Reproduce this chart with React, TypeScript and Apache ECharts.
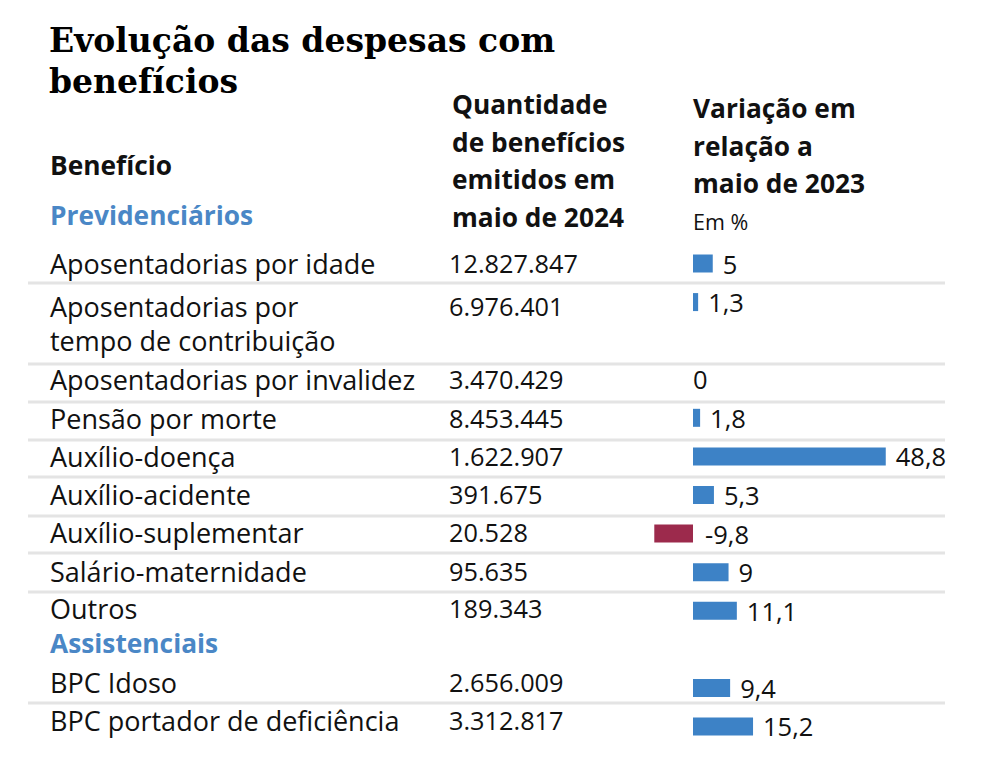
import React, { useEffect, useRef } from "react";
import * as echarts from "echarts";

const titleLines = ["Evolução das despesas com", "benefícios"];
const colHeadBenefit = "Benefício";
const colHeadQty = ["Quantidade", "de benefícios", "emitidos em", "maio de 2024"];
const colHeadVar = ["Variação em", "relação a", "maio de 2023"];
const unitNote = "Em %";
const groupPrev = "Previdenciários";
const groupAssist = "Assistenciais";

const benefits = [
  "Aposentadorias por idade",
  "Aposentadorias por\ntempo de contribuição",
  "Aposentadorias por invalidez",
  "Pensão por morte",
  "Auxílio-doença",
  "Auxílio-acidente",
  "Auxílio-suplementar",
  "Salário-maternidade",
  "Outros",
  "BPC Idoso",
  "BPC portador de deficiência",
];
const quantities = [
  "12.827.847",
  "6.976.401",
  "3.470.429",
  "8.453.445",
  "1.622.907",
  "391.675",
  "20.528",
  "95.635",
  "189.343",
  "2.656.009",
  "3.312.817",
];
const variation = [5, 1.3, 0, 1.8, 48.8, 5.3, -9.8, 9, 11.1, 9.4, 15.2];

// row slots on the category axis (gaps: second line of row 2, "Assistenciais" header)
const slotOfRow = [0, 1, 3, 4, 5, 6, 7, 8, 9, 11, 12];
const slotCount = 13;
const rowTextY = [263, 306, 379, 418, 456, 494, 532, 571, 608, 682, 720];
const dividerY = [283, 364, 402, 440, 477, 516, 553, 592, 703];

const FONT = "'Open Sans', 'Noto Sans', sans-serif";
const BLUE = "#3d82c6";
const RED = "#9c2a4c";
const HEAD_BLUE = "#4a87c6";

export default function App() {
  const ref = useRef<HTMLDivElement>(null);
  useEffect(() => {
    const chart = echarts.init(ref.current!, null, { renderer: "svg" });

    const slots: string[] = [];
    for (let i = 0; i < slotCount; i++) slots.push("s" + i);
    const data: any[] = slots.map(() => null);
    variation.forEach((v, i) => {
      data[slotOfRow[i]] = {
        value: v,
        itemStyle: { color: v < 0 ? RED : BLUE },
        label: v === 0 ? { distance: 0 } : v < 0 ? { position: "right", distance: 12 } : {},
      };
    });

    const graphics: any[] = [];
    const txt = (x: number, y: number, text: string, font: any, fill = "#111") =>
      graphics.push({
        type: "text",
        x,
        y,
        style: { text, fill, ...font, verticalAlign: "middle" },
      });

    const titleFont = { fontFamily: "'DejaVu Serif', 'Liberation Serif', serif", fontWeight: "bold", fontSize: 33 };
    txt(49, 40, titleLines[0], titleFont, "#000");
    txt(49, 81, titleLines[1], titleFont, "#000");

    const bold = { fontFamily: FONT, fontWeight: "bold", fontSize: 26.3 };
    const reg = { fontFamily: FONT, fontSize: 27 };
    const num = { fontFamily: FONT, fontSize: 25.3 };
    txt(50, 165, colHeadBenefit, bold);
    txt(50, 215, groupPrev, bold, HEAD_BLUE);
    txt(50, 643, groupAssist, bold, HEAD_BLUE);
    colHeadQty.forEach((t, i) => txt(452, 104 + i * 37.5, t, bold));
    colHeadVar.forEach((t, i) => txt(693, 108 + i * 37.5, t, bold));
    txt(693, 221, unitNote, { fontFamily: FONT, fontSize: 21.5 });

    dividerY.forEach((y) =>
      graphics.push({
        type: "line",
        shape: { x1: 28, y1: y, x2: 945, y2: y },
        style: { stroke: "#e4e4e4", lineWidth: 3 },
        z: -1,
      })
    );

    benefits.forEach((b, i) => {
      const lines = b.split("\n");
      lines.forEach((l, j) => txt(50, rowTextY[i] + j * 34, l, reg));
      txt(449, rowTextY[i], quantities[i], num);
    });

    const cell = 38.58;
    chart.setOption({
      animation: false,
      graphic: graphics,
      grid: {
        left: 614,
        width: 316,
        top: 263.5 - cell / 2,
        height: cell * slotCount,
      },
      xAxis: {
        type: "value",
        min: -20,
        max: 60,
        show: false,
      },
      yAxis: {
        type: "category",
        data: slots,
        inverse: true,
        show: false,
      },
      series: [
        {
          type: "bar",
          data,
          barWidth: 18,
          label: {
            show: true,
            position: "right",
            distance: 10,
            color: "#111",
            fontFamily: FONT,
            fontSize: 25.5,
            formatter: (p: any) => String(p.value).replace(".", ","),
          },
        },
      ],
    });
    return () => chart.dispose();
  }, []);
  return (
    <div
      ref={ref}
      style={{ position: "fixed", left: 0, top: 0, width: 1007, height: 760, background: "#fff" }}
    />
  );
}
